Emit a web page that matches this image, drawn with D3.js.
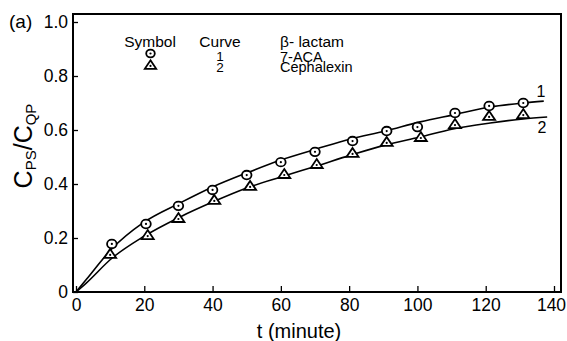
<!DOCTYPE html>
<html><head><meta charset="utf-8">
<script src="https://cdn.jsdelivr.net/npm/d3@7"></script>
<style>body{margin:0;background:#fff}svg{display:block;font-family:"Liberation Sans",Arial,sans-serif}</style>
</head><body><svg id="c" width="567" height="341"></svg>
<script>
// Data
const tCircle   = [10.5,20.5,30,40,50,60,70,81,91,100,111,121,131];
const acaValues = [0.178,0.252,0.319,0.378,0.433,0.481,0.519,0.559,0.596,0.611,0.663,0.689,0.700];
const tTriangle  = [10,21,30,40.5,51,61,70.5,81,91,101,111,121,131];
const cephValues = [0.141,0.211,0.274,0.341,0.393,0.437,0.474,0.515,0.556,0.574,0.622,0.652,0.659];
const curve1T = [0,3,10.5,19.6,30.5,40,50,60,70.5,80.5,90.5,100.8,110.4,121.3,131,137];
const curve1V = [0,0.046,0.16,0.256,0.33,0.389,0.441,0.489,0.530,0.567,0.596,0.630,0.656,0.685,0.70,0.707];
const curve2T = [0,3,10.5,19.6,30.5,40,50,60,70.5,80.5,90.5,100.8,110.4,121.3,131,138];
const curve2V = [0,0.033,0.125,0.204,0.278,0.333,0.385,0.426,0.467,0.507,0.544,0.574,0.604,0.626,0.641,0.648];
const xTicks = [0,20,40,60,80,100,120,140];
const yTicks = [0,0.2,0.4,0.6,0.8,1.0];
const yTickLabels = ["0","0.2","0.4","0.6","0.8","1.0"];
const legendHeaders = ["Symbol","Curve","β- lactam"];
const legendCurves = ["1","2"];
const legendNames = ["7-ACA","Cephalexin"];

const svg = d3.select("#c");
const x = d3.scaleLinear().domain([0,140]).range([76,554]);
const y = d3.scaleLinear().domain([0,1]).range([292,22]);
const frame = {l:73, r:561, t:14, b:292};

// frame
svg.append("rect").attr("x",frame.l).attr("y",frame.t)
  .attr("width",frame.r-frame.l).attr("height",frame.b-frame.t)
  .attr("fill","none").attr("stroke","#000").attr("stroke-width",2);

// axes with inward ticks
const xAxis = svg.append("g").attr("transform",`translate(0,${frame.b})`)
  .call(d3.axisBottom(x).tickValues(xTicks).tickSize(-6).tickPadding(0).tickFormat(d3.format("d")));
xAxis.select(".domain").remove();
xAxis.selectAll("line").attr("stroke","#000").attr("stroke-width",1.3);
xAxis.selectAll("text").attr("font-size",17.5).attr("fill","#000").attr("y",7).attr("dy","0.71em")
  .attr("x",d=>d===140?-3:0)
  .style("font-family","Liberation Sans, Arial, sans-serif");

const yAxis = svg.append("g").attr("transform",`translate(${frame.l},0)`)
  .call(d3.axisLeft(y).tickValues(yTicks).tickSize(-5).tickPadding(0).tickFormat((d,i)=>yTickLabels[i]));
yAxis.select(".domain").remove();
yAxis.selectAll("line").attr("stroke","#000").attr("stroke-width",1.3);
yAxis.selectAll("text").attr("font-size",17.5).attr("fill","#000").attr("x",-5)
  .style("font-family","Liberation Sans, Arial, sans-serif");

// curves
const line = d3.line().x(d=>x(d[0])).y(d=>y(d[1])).curve(d3.curveMonotoneX);
const c1 = curve1T.map((t,i)=>[t,curve1V[i]]);
const c2 = curve2T.map((t,i)=>[t,curve2V[i]]);
[c1,c2].forEach(c=>svg.append("path").attr("d",line(c)).attr("fill","none")
  .attr("stroke","#000").attr("stroke-width",1.6));

// symbols
function circleSym(g,cx,cy,r){
  g.append("ellipse").attr("cx",cx).attr("cy",cy).attr("rx",r).attr("ry",r*0.9)
    .attr("fill","#fff").attr("stroke","#000").attr("stroke-width",1.8);
  g.append("circle").attr("cx",cx).attr("cy",cy).attr("r",1.1).attr("fill","#000");
}
function triSym(g,cx,cy,s){
  g.append("path").attr("d",`M${cx},${cy-5*s}L${cx+6*s},${cy+4*s}L${cx-6*s},${cy+4*s}Z`)
    .attr("fill","#fff").attr("stroke","#000").attr("stroke-width",1.8).attr("stroke-linejoin","miter");
  g.append("circle").attr("cx",cx).attr("cy",cy+1*s).attr("r",1.1).attr("fill","#000");
}
const gT = svg.append("g");
tTriangle.forEach((t,i)=>triSym(gT,x(t),y(cephValues[i]),1));
const gC = svg.append("g");
tCircle.forEach((t,i)=>circleSym(gC,x(t),y(acaValues[i]),4.8));

// curve labels
svg.append("text").attr("x",541).attr("y",97).attr("text-anchor","middle").attr("font-size",16).text("1");
svg.append("text").attr("x",542).attr("y",133).attr("text-anchor","middle").attr("font-size",16).text("2");

// legend
const lg = svg.append("g").attr("font-size",13.5);
lg.append("text").attr("x",150).attr("y",46.5).attr("text-anchor","middle").attr("font-size",15.5).text(legendHeaders[0]);
lg.append("text").attr("x",220).attr("y",46.5).attr("text-anchor","middle").attr("font-size",15.5).text(legendHeaders[1]);
lg.append("text").attr("x",280).attr("y",46.5).attr("font-size",15.5).text(legendHeaders[2]);
circleSym(lg,150.5,53.5,4.3);
triSym(lg,150.5,65,0.95);
lg.append("text").attr("x",220).attr("y",60.5).attr("text-anchor","middle").text(legendCurves[0]);
lg.append("text").attr("x",220).attr("y",72).attr("text-anchor","middle").text(legendCurves[1]);
lg.append("text").attr("x",280).attr("y",62).attr("font-size",14.5).text(legendNames[0]);
lg.append("text").attr("x",280).attr("y",72).attr("font-size",14.5).text(legendNames[1]);

// panel label
svg.append("text").attr("x",9).attr("y",28).attr("font-size",19).text("(a)");

// axis titles
svg.append("text").attr("x",299).attr("y",338).attr("text-anchor","middle").attr("font-size",20).text("t (minute)");
const yl = svg.append("text").attr("transform","translate(32,146) rotate(-90)")
  .attr("text-anchor","middle").attr("font-size",25);
yl.append("tspan").text("C");
yl.append("tspan").attr("font-size",15).attr("dy",4).text("PS");
yl.append("tspan").attr("dy",-4).text("/C");
yl.append("tspan").attr("font-size",15).attr("dy",4).text("QP");
</script></body></html>
